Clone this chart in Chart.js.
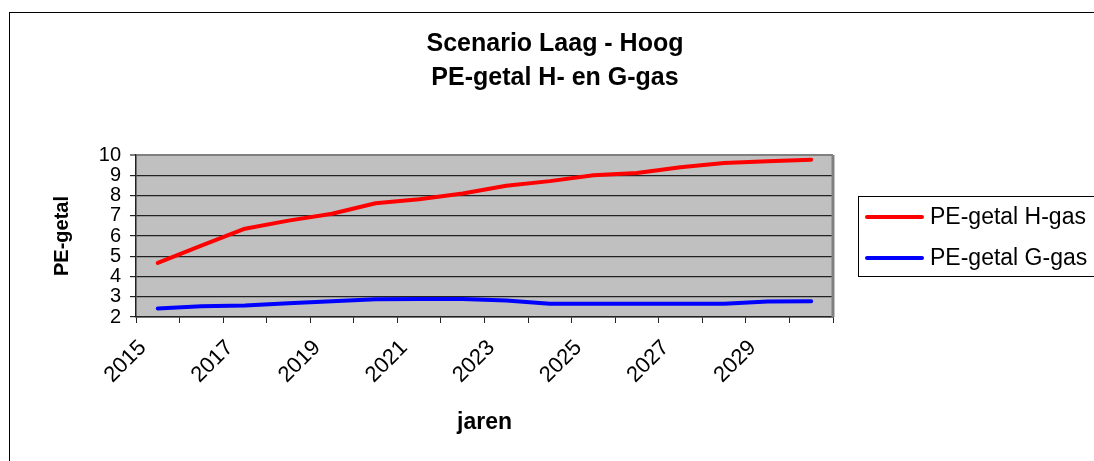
<!DOCTYPE html>
<html>
<head>
<meta charset="utf-8">
<script src="https://cdn.jsdelivr.net/npm/chart.js@4/dist/chart.umd.min.js"></script>
<style>
  html, body { margin: 0; padding: 0; background: #fff; }
  #c { display: block; }
</style>
</head>
<body>
<canvas id="c" width="1094" height="461"></canvas>
<script>
const years = ['2015','2016','2017','2018','2019','2020','2021','2022','2023','2024','2025','2026','2027','2028','2029','2030'];
const xTickLabels = ['2015','2017','2019','2021','2023','2025','2027','2029'];
const hGas = [4.67, 5.52, 6.36, 6.76, 7.10, 7.62, 7.81, 8.10, 8.48, 8.71, 9.00, 9.11, 9.40, 9.60, 9.69, 9.77];
const gGas = [2.42, 2.53, 2.57, 2.68, 2.78, 2.88, 2.89, 2.89, 2.82, 2.66, 2.65, 2.65, 2.65, 2.65, 2.77, 2.78];
const seriesNames = ['PE-getal H-gas', 'PE-getal G-gas'];
const titleLines = ['Scenario Laag - Hoog', 'PE-getal H- en G-gas'];
const yTitle = 'PE-getal';
const xTitle = 'jaren';

const FONT = "'Liberation Sans', Arial, sans-serif";

const decor = {
  id: 'decor',
  beforeDraw(chart) {
    const {ctx, chartArea: a} = chart;
    ctx.save();
    ctx.fillStyle = '#fff';
    ctx.fillRect(0, 0, chart.width, chart.height);
    ctx.fillStyle = '#C0C0C0';
    ctx.fillRect(a.left, a.top, a.right - a.left, a.bottom - a.top);
    ctx.restore();
  },
  afterDraw(chart) {
    const {ctx, chartArea: a} = chart;
    ctx.save();
    ctx.strokeStyle = '#808080';
    ctx.lineWidth = 3;
    ctx.beginPath();
    ctx.moveTo(a.right, a.top);
    ctx.lineTo(a.right, a.bottom);
    ctx.stroke();
    ctx.strokeStyle = '#000';
    ctx.lineWidth = 1;
    ctx.strokeRect(9.5, 12.5, 1200, 600);
    const lx = 858.5, ly = 196.5;
    ctx.strokeRect(lx, ly, 400, 80);
    const ds = chart.data.datasets;
    const rows = [217, 258];
    ctx.font = '23px ' + FONT;
    ctx.textBaseline = 'middle';
    ctx.textAlign = 'left';
    ds.forEach((d, i) => {
      ctx.strokeStyle = d.borderColor;
      ctx.lineWidth = 4;
      ctx.lineCap = 'round';
      ctx.beginPath();
      ctx.moveTo(867, rows[i]);
      ctx.lineTo(922, rows[i]);
      ctx.stroke();
      ctx.fillStyle = '#000';
      ctx.fillText(d.label, 930, rows[i] + 1);
    });
    ctx.restore();
  }
};

new Chart(document.getElementById('c'), {
  type: 'line',
  data: {
    labels: years,
    datasets: [
      { label: seriesNames[0], data: hGas, borderColor: '#FF0000', backgroundColor: '#FF0000', borderWidth: 4, pointRadius: 0, tension: 0, borderCapStyle: 'round', borderJoinStyle: 'round' },
      { label: seriesNames[1], data: gGas, borderColor: '#0000FF', backgroundColor: '#0000FF', borderWidth: 4, pointRadius: 0, tension: 0, borderCapStyle: 'round', borderJoinStyle: 'round' }
    ]
  },
  options: {
    responsive: false,
    devicePixelRatio: 1,
    animation: false,
    layout: { padding: { left: 16, right: 0, top: 0, bottom: 0 } },
    plugins: {
      legend: { display: false },
      tooltip: { enabled: false },
      title: {
        display: true,
        text: titleLines,
        color: '#000',
        font: { family: FONT, size: 25, weight: 'bold', lineHeight: 1.36 },
        padding: { top: 27, bottom: 60 }
      }
    },
    scales: {
      x: {
        type: 'category',
        offset: true,
        grid: { offset: true, drawOnChartArea: false, drawTicks: true, tickLength: 6, color: '#222', lineWidth: 1 },
        border: { display: true, color: '#222', width: 1.5 },
        ticks: {
          autoSkip: false,
          maxRotation: 45,
          minRotation: 45,
          color: '#000',
          padding: 12,
          labelOffset: -15,
          font: { family: FONT, size: 22 },
          callback: function(v, i) { const l = this.getLabelForValue(v); return xTickLabels.includes(l) ? l : ''; }
        },
        title: { display: true, text: xTitle, color: '#000', font: { family: FONT, size: 23, weight: 'bold', lineHeight: 1.2 }, padding: { top: 0, bottom: 25 } },
        afterFit(s) { s.height = 144; }
      },
      y: {
        min: 2, max: 10,
        ticks: { stepSize: 1, autoSkip: false, color: '#000', padding: 9, font: { family: FONT, size: 20, lineHeight: 1 } },
        grid: { color: (c) => c.tick && c.tick.value === 10 ? '#808080' : '#222', lineWidth: (c) => c.tick && c.tick.value === 10 ? 2 : 1.2, tickLength: 6, drawTicks: true },
        border: { display: true, color: '#222', width: 1.5 },
        title: { display: true, text: yTitle, color: '#000', font: { family: FONT, size: 20, weight: 'bold', lineHeight: 1.2 }, padding: { top: 34, bottom: 0 } },
        afterFit(s) { s.width = 120; }
      },
      yRightSpace: {
        type: 'linear',
        position: 'right',
        display: true,
        ticks: { display: false },
        grid: { display: false, drawTicks: false },
        border: { display: false },
        afterFit(s) { s.width = 261; }
      }
    }
  },
  plugins: [decor]
});
</script>
</body>
</html>
